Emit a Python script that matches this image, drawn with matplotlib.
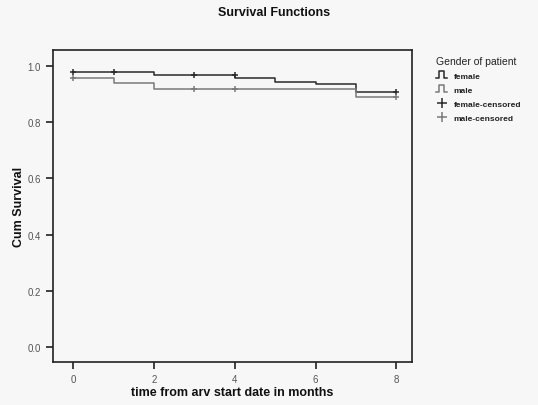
import matplotlib
matplotlib.use("Agg")
import matplotlib.pyplot as plt
from matplotlib.lines import Line2D
from matplotlib.legend_handler import HandlerBase

# Data
female_times = [0, 1, 2, 4, 5, 6, 7, 8]
female_surv = [0.980, 0.977, 0.968, 0.957, 0.944, 0.935, 0.906, 0.906]
male_times = [0, 1, 2, 7, 8]
male_surv = [0.956, 0.941, 0.917, 0.889, 0.889]
female_cens_t = [0, 1, 3, 4, 8]
female_cens_s = [0.980, 0.977, 0.968, 0.968, 0.906]
male_cens_t = [0, 3, 4, 8]
male_cens_s = [0.956, 0.917, 0.917, 0.889]
xticks = [0, 2, 4, 6, 8]
yticks = [0.0, 0.2, 0.4, 0.6, 0.8, 1.0]

plt.rcParams['font.family'] = ['Liberation Sans', 'DejaVu Sans']

bg = "#f7f7f7"
fig = plt.figure(figsize=(5.38, 4.06), dpi=100, facecolor=bg)
ax = fig.add_axes([0.0985, 0.106, 0.667, 0.768], facecolor=bg)

fcol = "#2a2a2a"
mcol = "#7a7a7a"
ax.step(female_times, female_surv, where="post", color=fcol, lw=1.1)
ax.step(male_times, male_surv, where="post", color=mcol, lw=1.1)
ax.plot(female_cens_t, female_cens_s, ls="none", marker="+", ms=4.5, mew=1.1, color=fcol)
ax.plot(male_cens_t, male_cens_s, ls="none", marker="+", ms=4.5, mew=1.1, color=mcol)

ax.set_xlim(-0.5, 8.38)
ax.set_ylim(-0.052, 1.056)
ax.set_xticks(xticks)
ax.set_xticklabels([str(t) for t in xticks])
ax.set_yticks(yticks)
ax.set_yticklabels([f"{t:.1f}" for t in yticks])
for s in ax.spines.values():
    s.set_color("#222222")
    s.set_linewidth(1.2)
ax.tick_params(axis="both", labelsize=7, labelcolor="#555555", color="#222222",
               length=5, width=1.2, direction="out")
ax.tick_params(axis="x", pad=4)

ax.set_xlabel("time from arv start date in months", fontsize=9, fontweight="bold",
              color="#111111", labelpad=1)
ax.set_ylabel("Cum Survival", fontsize=9, fontweight="bold", color="#111111", labelpad=2)
fig.text(0.51, 0.968, "Survival Functions", ha="center", va="center",
         fontsize=9, fontweight="bold", color="#111111")


class StepHandler(HandlerBase):
    def create_artists(self, legend, orig_handle, xdescent, ydescent, width, height,
                       fontsize, trans):
        x0, x1 = -xdescent, -xdescent + width
        y0, y1 = -ydescent, -ydescent + height
        xs = [x0, x0 + 0.3 * width, x0 + 0.3 * width, x0 + 0.75 * width,
              x0 + 0.75 * width, x1]
        ys = [y0, y0, y1 + 0.15 * height, y1 + 0.15 * height, y0, y0]
        ln = Line2D(xs, ys, color=orig_handle.get_color(), lw=1.1, transform=trans)
        return [ln]


hf = Line2D([], [], color=fcol, lw=1.1)
hm = Line2D([], [], color=mcol, lw=1.1)
handles = [
    hf, hm,
    Line2D([], [], ls="none", marker="+", ms=7, mew=1.1, color=fcol),
    Line2D([], [], ls="none", marker="+", ms=7, mew=1.1, color=mcol),
]
labels = ["female", "male", "female-censored", "male-censored"]
leg = fig.legend(handles, labels, title="Gender of patient", loc="upper left",
                 bbox_to_anchor=(0.80, 0.875), frameon=False, fontsize=6,
                 title_fontsize=7.5, handlelength=1.3, handletextpad=0.8,
                 labelspacing=0.75, borderpad=0.2,
                 handler_map={hf: StepHandler(), hm: StepHandler()})
leg._legend_box.align = "left"
for t in leg.get_texts():
    t.set_fontweight("bold")
    t.set_color("#222222")
leg.get_title().set_color("#222222")

fig.savefig("out.png", dpi=100, facecolor=bg)
